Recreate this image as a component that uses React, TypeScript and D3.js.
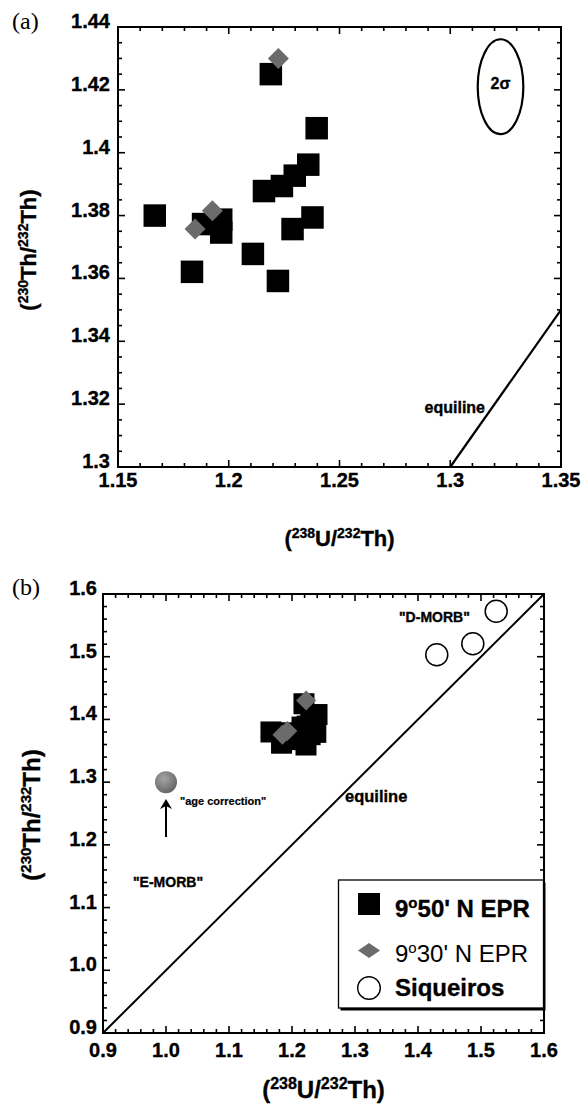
import { useEffect, useRef } from "react";
import * as d3 from "d3";

// panel (a) axes
const xTicksA = [1.15, 1.2, 1.25, 1.3, 1.35];
const xLabelsA = ["1.15", "1.2", "1.25", "1.3", "1.35"];
const yTicksA = [1.3, 1.32, 1.34, 1.36, 1.38, 1.4, 1.42, 1.44];
const yLabelsA = ["1.3", "1.32", "1.34", "1.36", "1.38", "1.4", "1.42", "1.44"];

// panel (b) axes
const xTicksB = [0.9, 1.0, 1.1, 1.2, 1.3, 1.4, 1.5, 1.6];
const xLabelsB = ["0.9", "1.0", "1.1", "1.2", "1.3", "1.4", "1.5", "1.6"];
const yTicksB = [0.9, 1.0, 1.1, 1.2, 1.3, 1.4, 1.5, 1.6];
const yLabelsB = ["0.9", "1.0", "1.1", "1.2", "1.3", "1.4", "1.5", "1.6"];

// 9°50' N EPR  [238U/232Th, 230Th/232Th]
const epr950 = [
  [1.1666, 1.38],
  [1.1834, 1.3621],
  [1.1884, 1.3773],
  [1.1966, 1.3787],
  [1.1966, 1.3746],
  [1.2109, 1.3678],
  [1.2159, 1.3878],
  [1.224, 1.3894],
  [1.2298, 1.3927],
  [1.2359, 1.3962],
  [1.2397, 1.4078],
  [1.2378, 1.3794],
  [1.2288, 1.3757],
  [1.2222, 1.3592],
  [1.219, 1.425],
];

// 9°30' N EPR
const epr930 = [
  [1.1848, 1.3757],
  [1.1926, 1.3815],
  [1.2224, 1.43],
];

// Siqueiros
const siqueiros = [
  [1.4298, 1.5032],
  [1.487, 1.5206],
  [1.5241, 1.5724],
];

// age corrected point and its arrow
const ageCorrected = [1.0, 1.3];
const ageArrow = [1.0, 1.2124, 1.273];

// 2 sigma error ellipse: centre and half widths
const ellipse2s = [1.3227, 1.421, 0.0103, 0.0151];

const legendItems = ["9", "50' N EPR", "9", "30' N EPR", "Siqueiros"];

const FONT = "'Liberation Sans', Arial, Helvetica, sans-serif";
const SERIF = "'Liberation Serif', 'Times New Roman', serif";

function frange(a, b, step) {
  const n = Math.round((b - a) / step);
  return d3.range(n + 1).map((i) => +(a + i * step).toFixed(4));
}

// heavy bold text like the printed figure
function bold(sel, size) {
  return sel
    .attr("font-family", FONT)
    .attr("font-weight", "bold")
    .attr("font-size", size)
    .attr("stroke", "black")
    .attr("stroke-width", 0.35);
}

function drawPanel(svg, p) {
  const x = d3.scaleLinear().domain(p.xDomain).range([p.left, p.right]);
  const y = d3.scaleLinear().domain(p.yDomain).range([p.bottom, p.top]);
  const g = svg.append("g");

  const xMinor = frange(p.xDomain[0], p.xDomain[1], p.xMinor);
  const yMinor = frange(p.yDomain[0], p.yDomain[1], p.yMinor);
  const isMajor = (v, list) => list.some((m) => Math.abs(m - v) < 1e-6);

  const ticks = g.append("g").attr("stroke", "black").attr("stroke-width", 1.6);
  xMinor.forEach((v) => {
    const len = isMajor(v, p.xTicks) ? 7 : 4;
    ticks.append("line").attr("x1", x(v)).attr("x2", x(v)).attr("y1", p.bottom).attr("y2", p.bottom - len);
    ticks.append("line").attr("x1", x(v)).attr("x2", x(v)).attr("y1", p.top).attr("y2", p.top + len);
  });
  yMinor.forEach((v) => {
    const len = isMajor(v, p.yTicks) ? 7 : 4;
    ticks.append("line").attr("y1", y(v)).attr("y2", y(v)).attr("x1", p.left).attr("x2", p.left + len);
    ticks.append("line").attr("y1", y(v)).attr("y2", y(v)).attr("x1", p.right).attr("x2", p.right - len);
  });

  g.append("rect")
    .attr("x", p.left)
    .attr("y", p.top)
    .attr("width", p.right - p.left)
    .attr("height", p.bottom - p.top)
    .attr("fill", "none")
    .attr("stroke", "black")
    .attr("stroke-width", 2);

  bold(
    g.append("g")
      .selectAll("text")
      .data(p.xTicks)
      .join("text")
      .attr("x", (d) => x(d))
      .attr("y", p.bottom + p.xLabelDy)
      .attr("text-anchor", "middle"),
    20
  ).text((d, i) => p.xLabels[i]);

  bold(
    g.append("g")
      .selectAll("text")
      .data(p.yTicks)
      .join("text")
      .attr("x", p.left - p.yLabelGap)
      .attr("y", (d) => y(d) + 1)
      .attr("text-anchor", "end"),
    20
  ).text((d, i) => p.yLabels[i]);

  return { x, y, g };
}

function ratioTitle(sel, parts, size, supSize, shift) {
  bold(sel, size).attr("text-anchor", "middle");
  let up = false;
  parts.forEach(([t, sup]) => {
    const ts = sel.append("tspan").text(t);
    if (sup) {
      ts.attr("font-size", supSize).attr("dy", -shift);
      up = true;
    } else if (up) {
      ts.attr("dy", shift);
      up = false;
    }
  });
}

const xTitle = [["(", false], ["238", true], ["U/", false], ["232", true], ["Th)", false]];
const yTitle = [["(", false], ["230", true], ["Th/", false], ["232", true], ["Th)", false]];

function drawSquares(g, data, x, y, size) {
  g.append("g")
    .selectAll("rect")
    .data(data)
    .join("rect")
    .attr("x", (d) => x(d[0]) - size / 2)
    .attr("y", (d) => y(d[1]) - size / 2)
    .attr("width", size)
    .attr("height", size)
    .attr("fill", "black");
}

function drawDiamonds(g, data, x, y, r) {
  g.append("g")
    .selectAll("path")
    .data(data)
    .join("path")
    .attr("d", (d) => {
      const cx = x(d[0]);
      const cy = y(d[1]);
      return `M${cx},${cy - r}L${cx + r},${cy}L${cx},${cy + r}L${cx - r},${cy}Z`;
    })
    .attr("fill", "#6b6b6b");
}

const App = () => {
  const ref = useRef(null);

  useEffect(() => {
    const svg = d3.select(ref.current);
    svg.selectAll("*").remove();

    const defs = svg.append("defs");
    const grad = defs.append("radialGradient").attr("id", "ball").attr("cx", "40%").attr("cy", "35%").attr("r", "65%");
    grad.append("stop").attr("offset", "0%").attr("stop-color", "#a5a5a5");
    grad.append("stop").attr("offset", "100%").attr("stop-color", "#676767");

    // ---------- panel (a)
    const a = drawPanel(svg, {
      xDomain: [1.15, 1.35],
      yDomain: [1.3, 1.44],
      left: 118,
      right: 561,
      top: 27,
      bottom: 467,
      xTicks: xTicksA,
      xLabels: xLabelsA,
      yTicks: yTicksA,
      yLabels: yLabelsA,
      xMinor: 0.01,
      yMinor: 0.005,
      xLabelDy: 20,
      yLabelGap: 8,
    });

    a.g.append("line")
      .attr("x1", a.x(1.3))
      .attr("y1", a.y(1.3))
      .attr("x2", a.x(1.35))
      .attr("y2", a.y(1.35))
      .attr("stroke", "black")
      .attr("stroke-width", 2.2);

    bold(
      a.g.append("text")
        .attr("x", a.x(1.3157))
        .attr("y", a.y(1.3172))
        .attr("text-anchor", "end"),
      16
    ).text("equiline");

    const [ex, ey, erx, ery] = ellipse2s;
    a.g.append("ellipse")
      .attr("cx", a.x(ex))
      .attr("cy", a.y(ey))
      .attr("rx", a.x(ex + erx) - a.x(ex))
      .attr("ry", a.y(ey) - a.y(ey + ery))
      .attr("fill", "none")
      .attr("stroke", "black")
      .attr("stroke-width", 2.2);
    bold(
      a.g.append("text")
        .attr("x", a.x(ex))
        .attr("y", a.y(ey) + 2)
        .attr("text-anchor", "middle"),
      16
    ).text("2σ");

    drawSquares(a.g, epr950, a.x, a.y, 22.5);
    drawDiamonds(a.g, epr930, a.x, a.y, 10.5);

    ratioTitle(svg.append("text").attr("x", 339.5).attr("y", 546), xTitle, 22, 14, 8);
    ratioTitle(
      svg.append("text").attr("transform", "translate(36,250) rotate(-90)"),
      yTitle,
      22,
      14,
      8
    );

    svg.append("text")
      .attr("x", 12)
      .attr("y", 29)
      .attr("font-family", SERIF)
      .attr("font-size", 24)
      .text("(a)");

    // ---------- panel (b)
    const b = drawPanel(svg, {
      xDomain: [0.9, 1.6],
      yDomain: [0.9, 1.6],
      left: 103,
      right: 544,
      top: 594,
      bottom: 1033,
      xTicks: xTicksB,
      xLabels: xLabelsB,
      yTicks: yTicksB,
      yLabels: yLabelsB,
      xMinor: 0.02,
      yMinor: 0.02,
      xLabelDy: 24,
      yLabelGap: 6,
    });

    b.g.append("line")
      .attr("x1", b.x(0.9))
      .attr("y1", b.y(0.9))
      .attr("x2", b.x(1.6))
      .attr("y2", b.y(1.6))
      .attr("stroke", "black")
      .attr("stroke-width", 2);

    const note = (t, vx, vy, size) =>
      bold(
        b.g.append("text")
          .attr("x", b.x(vx))
          .attr("y", b.y(vy)),
        size
      ).text(t);

    note("equiline", 1.2841, 1.2683, 16.5);
    note("\"D-MORB\"", 1.3698, 1.5553, 14);
    note("\"E-MORB\"", 0.9476, 1.1327, 14);
    note("\"age correction\"", 1.0222, 1.2635, 11).attr("stroke-width", 0.2);

    drawSquares(b.g, epr950, b.x, b.y, 21);
    drawDiamonds(b.g, epr930, b.x, b.y, 10);

    b.g.append("g")
      .selectAll("circle")
      .data(siqueiros)
      .join("circle")
      .attr("cx", (d) => b.x(d[0]))
      .attr("cy", (d) => b.y(d[1]))
      .attr("r", 11)
      .attr("fill", "white")
      .attr("stroke", "black")
      .attr("stroke-width", 1.5);

    b.g.append("circle")
      .attr("cx", b.x(ageCorrected[0]))
      .attr("cy", b.y(ageCorrected[1]))
      .attr("r", 11)
      .attr("fill", "url(#ball)");

    const axp = b.x(ageArrow[0]);
    const ay0 = b.y(ageArrow[1]);
    const ay1 = b.y(ageArrow[2]);
    b.g.append("line")
      .attr("x1", axp)
      .attr("x2", axp)
      .attr("y1", ay0)
      .attr("y2", ay1 + 6)
      .attr("stroke", "black")
      .attr("stroke-width", 2);
    b.g.append("path")
      .attr("d", `M${axp},${ay1}L${axp + 6},${ay1 + 10}L${axp},${ay1 + 7}L${axp - 6},${ay1 + 10}Z`)
      .attr("fill", "black");

    // legend
    const lg = svg.append("g");
    lg.append("rect").attr("x", 340.5).attr("y", 882.5).attr("width", 205).attr("height", 128).attr("fill", "black");
    lg.append("rect")
      .attr("x", 338.5)
      .attr("y", 880)
      .attr("width", 205)
      .attr("height", 128)
      .attr("fill", "white")
      .attr("stroke", "black")
      .attr("stroke-width", 1.3);

    lg.append("rect").attr("x", 358).attr("y", 893).attr("width", 22).attr("height", 22).attr("fill", "black");
    lg.append("path").attr("d", "M369,943L380,950.5L369,958L358,950.5Z").attr("fill", "#6b6b6b");
    lg.append("circle")
      .attr("cx", 369)
      .attr("cy", 988)
      .attr("r", 11.3)
      .attr("fill", "white")
      .attr("stroke", "black")
      .attr("stroke-width", 1.4);

    const legendText = (y, heavy, parts) => {
      const t = lg.append("text")
        .attr("x", 395)
        .attr("y", y)
        .attr("font-family", FONT)
        .attr("font-size", 24);
      if (heavy) bold(t, 24);
      if (parts.length === 1) {
        t.text(parts[0]);
        return;
      }
      t.append("tspan").text(parts[0]);
      t.append("tspan").attr("font-size", 15).attr("dy", -9).text("o");
      t.append("tspan").attr("dy", 9).text(parts[1]);
    };
    legendText(917, true, [legendItems[0], legendItems[1]]);
    legendText(962, false, [legendItems[2], legendItems[3]]);
    legendText(996, true, [legendItems[4]]);

    svg.append("text")
      .attr("x", 12)
      .attr("y", 595)
      .attr("font-family", SERIF)
      .attr("font-size", 24)
      .text("(b)");

    ratioTitle(svg.append("text").attr("x", 323.5).attr("y", 1098), xTitle, 24, 16, 9);
    ratioTitle(
      svg.append("text").attr("transform", "translate(40,815) rotate(-90)"),
      yTitle,
      24,
      15,
      9
    );
  }, []);

  return (
    <div style={{ position: "absolute", left: 0, top: 0, background: "white" }}>
      <svg ref={ref} width={582} height={1110} style={{ display: "block" }}></svg>
    </div>
  );
};

export default App;
